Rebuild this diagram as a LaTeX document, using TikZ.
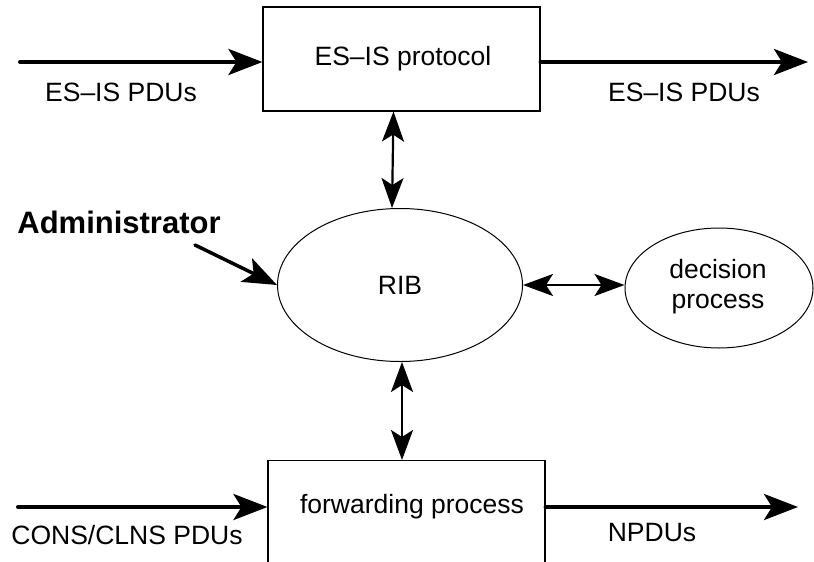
\documentclass[tikz,border=0pt]{standalone}
\usepackage{fontspec}
\setmainfont{Liberation Sans}
\usetikzlibrary{arrows.meta,shapes.geometric}
\tikzset{
  procbox/.style={draw, line width=1.1pt, rectangle, inner sep=0pt},
  store/.style={draw, line width=1pt, ellipse, inner sep=0pt, align=center},
  txt/.style={inner sep=0pt, align=center, font=\fontsize{26.5}{30}\selectfont},
  flow/.style={line width=4pt, line cap=round,
    -{Stealth[length=34pt,width=26pt,inset=8pt]}},
  link/.style={line width=2.2pt,
    {Stealth[length=30pt,width=22pt,inset=7pt]}-{Stealth[length=30pt,width=22pt,inset=7pt]}}
}
\begin{document}
\begin{tikzpicture}[x=1pt,y=-1pt]
  \clip (0,0) rectangle (814,562);
  \fill[white] (0,0) rectangle (814,562);

  % protocol box and its PDU flows
  \node[procbox, minimum width=277pt, minimum height=104pt] (esis) at (401.5,59) {};
  \node[txt] (esistxt) at (403,59) {ES–IS protocol};
  \coordinate (inA) at (20,62);
  \coordinate (outA) at (808,62);
  \draw[flow] (inA) -- (inA -| esis.west);
  \draw[flow] (outA -| esis.east) -- (outA);
  \node[txt] (pduin) at (121,92) {ES–IS PDUs};
  \node[txt] (pduout) at (684,92) {ES–IS PDUs};

  % routing information base and decision process
  \node[store, minimum width=245pt, minimum height=153pt] (rib) at (400,285) {};
  \node[txt] (ribtxt) at (400,285) {RIB};
  \node[store, minimum width=188pt, minimum height=120pt] (dec) at (719,288) {};
  \node[txt] (dectxt) at (718,287) {decision\\process};
  \draw[link] (rib.east) -- (rib.east -| dec.west);
  \draw[link] ([xshift=-8pt]esis.south) -- ([xshift=-8pt]rib.north);

  % administrator input
  \node[txt, font=\fontsize{31}{36}\selectfont\bfseries] (admin) at (119,222) {Administrator};
  \coordinate (admtail) at (195,245);
  \draw[flow, line width=3.5pt] (admtail) -- (rib.west);

  % forwarding box (runs off the lower edge)
  \node[procbox, minimum width=277pt, minimum height=150pt, anchor=north] (fwd) at (406.5,460) {};
  \node[txt] (fwdtxt) at (412,507) {forwarding process};
  \draw[link] ([xshift=2pt]rib.south) -- ([xshift=2pt]rib.south |- fwd.north);
  \coordinate (inB) at (18,507);
  \coordinate (outB) at (798,507);
  \draw[flow] (inB) -- (inB -| fwd.west);
  \draw[flow] (outB -| fwd.east) -- (outB);
  \node[txt] (cons) at (127,535) {CONS/CLNS PDUs};
  \node[txt] (npdu) at (652,533) {NPDUs};
\end{tikzpicture}
\end{document}
